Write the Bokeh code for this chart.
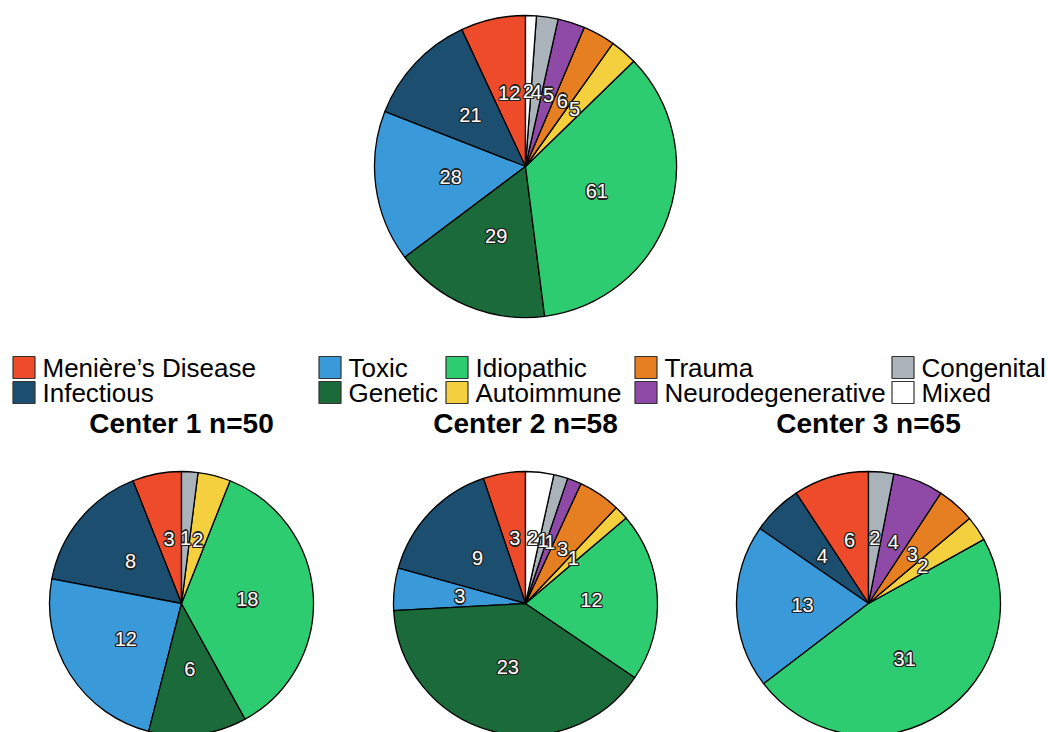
import math
from bokeh.plotting import figure
from bokeh.models import Range1d, ColumnDataSource
from bokeh.core.properties import value
from bokeh.embed import file_html
from bokeh.resources import INLINE

# ---- data ----
categories = ["Menière\u2019s Disease", "Infectious", "Toxic", "Genetic", "Idiopathic",
              "Autoimmune", "Trauma", "Neurodegenerative", "Congenital", "Mixed"]
colors = ["#EE4B2B", "#1C4E70", "#3A99D9", "#1A6A3A", "#2ECC71",
          "#F4D03F", "#E67E22", "#8E4AA6", "#AAB2BA", "#FFFFFF"]
center1 = [3, 8, 12, 6, 18, 2, 0, 0, 1, 0]
center2 = [3, 9, 3, 23, 12, 1, 3, 1, 1, 2]
center3 = [6, 4, 13, 0, 31, 2, 3, 4, 2, 0]
overall = [a + b + c for a, b, c in zip(center1, center2, center3)]
titles = ["Center 1 n=%d" % sum(center1), "Center 2 n=%d" % sum(center2), "Center 3 n=%d" % sum(center3)]

W, H = 1048, 732
def fx(x):
    return x
def fy(y):
    return 724 - y

FONT = "Liberation Sans"

p = figure(width=W, height=H, x_range=Range1d(0, W), y_range=Range1d(724 - H, 724),
           output_backend="svg", toolbar_location=None, min_border=0)
p.axis.visible = False
p.grid.visible = False
p.outline_line_color = None
p.background_fill_color = "white"
p.border_fill_color = "white"

def draw_pie(vals, cx, cy, r, fs):
    total = float(sum(vals))
    xs, ys, st, en, fc, lx, ly, lt = [], [], [], [], [], [], [], []
    cum = 0
    for v, c in zip(vals, colors):
        if v == 0:
            continue
        a0 = math.pi / 2 + 2 * math.pi * cum / total
        cum += v
        a1 = math.pi / 2 + 2 * math.pi * cum / total
        xs.append(cx); ys.append(cy); st.append(a0); en.append(a1); fc.append(c)
        mid = (a0 + a1) / 2
        lx.append(cx + 0.5 * r * math.cos(mid))
        ly.append(cy + 0.5 * r * math.sin(mid))
        lt.append(str(v))
    src = ColumnDataSource(dict(x=xs, y=ys, s=st, e=en, c=fc))
    p.wedge(x="x", y="y", radius=r, start_angle="s", end_angle="e", direction="anticlock",
            fill_color="c", line_color="black", line_width=1.3, source=src)
    lsrc = ColumnDataSource(dict(x=lx, y=ly, t=lt))
    # dark halo
    for dx, dy in [(-1.3, 0), (1.3, 0), (0, -1.3), (0, 1.3), (-1, -1), (1, 1), (-1, 1), (1, -1)]:
        p.text(x="x", y="y", text="t", source=lsrc, text_font=value(FONT), text_font_size=fs,
               text_color="#222222", text_align="center", text_baseline="middle",
               x_offset=dx, y_offset=dy)
    p.text(x="x", y="y", text="t", source=lsrc, text_font=value(FONT), text_font_size=fs,
           text_color="white", text_align="center", text_baseline="middle")

draw_pie(overall, fx(525), fy(166), 151, "20px")
for vals, cxp in zip([center1, center2, center3], [181, 525, 868]):
    draw_pie(vals, fx(cxp), fy(603), 132, "20px")

# titles
tsrc = ColumnDataSource(dict(x=[fx(181), fx(525), fx(868)], y=[fy(423)] * 3, t=titles))
p.text(x="x", y="y", text="t", source=tsrc, text_font=value(FONT), text_font_size="28px",
       text_font_style="bold", text_color="black", text_align="center", text_baseline="middle")

# legend
col_x = [12, 318, 445, 634, 891]
row_y = [367, 392]
lx, ly, lc, tx, tt = [], [], [], [], []
for i, (cat, col) in enumerate(zip(categories, colors)):
    cidx, ridx = i // 2, i % 2
    lx.append(fx(col_x[cidx] + 11.5)); ly.append(fy(row_y[ridx])); lc.append(col)
    tx.append(fx(col_x[cidx] + 30)); tt.append(cat)
lgs = ColumnDataSource(dict(x=lx, y=ly, c=lc, tx=tx, t=tt))
p.rect(x="x", y="y", width=22, height=22, fill_color="c", line_color="#333333",
       line_width=1.2, source=lgs)
p.text(x="tx", y="y", text="t", source=lgs, text_font=value(FONT), text_font_size="26px",
       text_color="black", text_align="left", text_baseline="middle")

open("out.html", "w").write(file_html(p, INLINE))
